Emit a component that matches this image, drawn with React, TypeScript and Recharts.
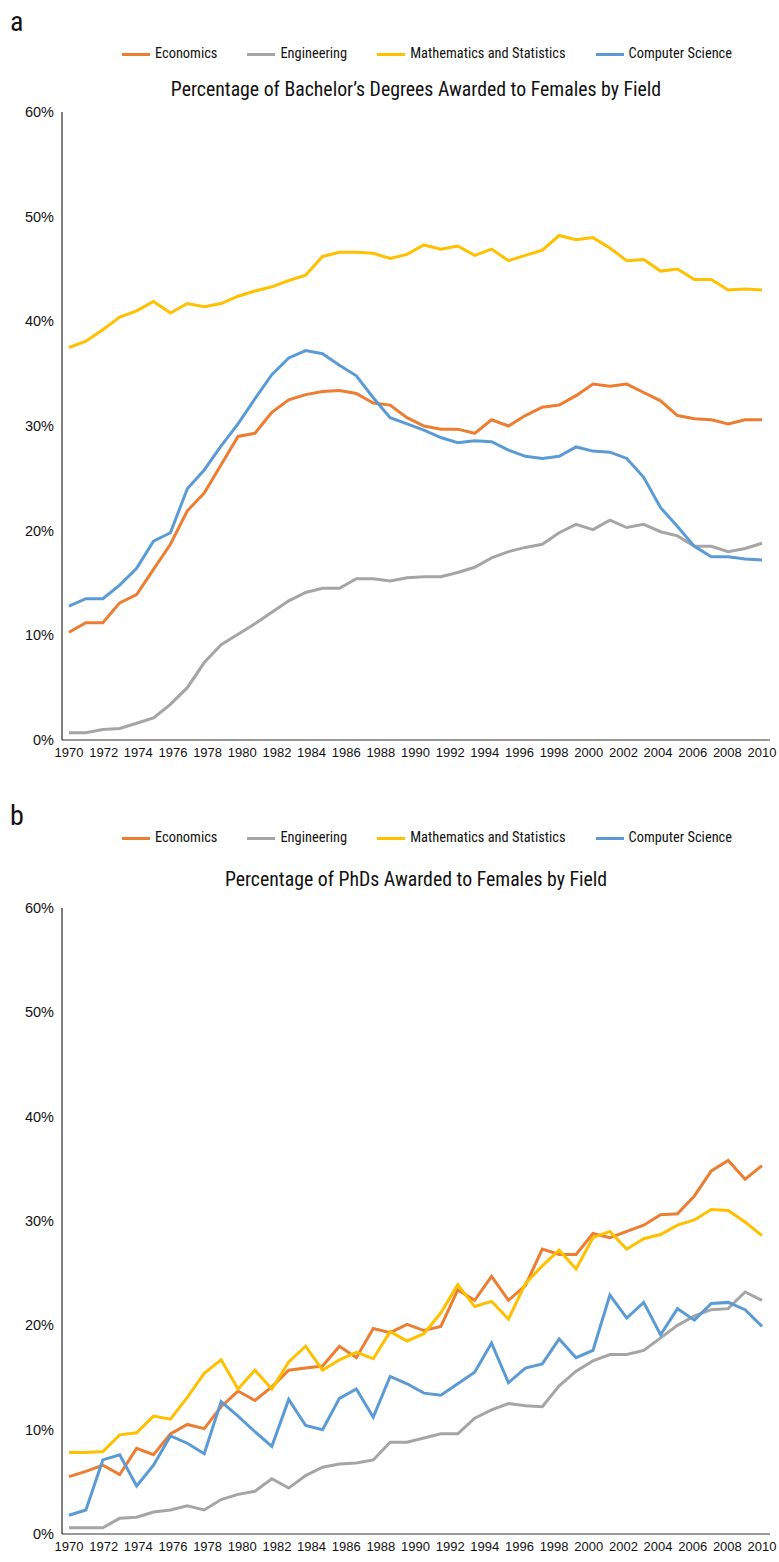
import { LineChart, Line, XAxis, YAxis } from "recharts";

// x-axis labels, spread evenly across the 42 yearly points (as in the source figure)
const YEAR_LABELS = [
  "1970", "1972", "1974", "1976", "1978", "1980", "1982", "1984", "1986", "1988", "1990",
  "1992", "1994", "1996", "1998", "2000", "2002", "2004", "2006", "2008", "2010",
];
const Y_TICKS = [0, 10, 20, 30, 40, 50, 60];

// a: bachelor's degrees (% female)
const econBachelor = [
  10.3, 11.2, 11.2, 13.1, 13.9, 16.3, 18.7, 21.9, 23.6, 26.3, 29.0, 29.3, 31.3, 32.5,
  33.0, 33.3, 33.4, 33.1, 32.2, 32.0, 30.8, 30.0, 29.7, 29.7, 29.3, 30.6, 30.0, 31.0,
  31.8, 32.0, 32.9, 34.0, 33.8, 34.0, 33.2, 32.4, 31.0, 30.7, 30.6, 30.2, 30.6, 30.6,
];
const engBachelor = [
  0.7, 0.7, 1.0, 1.1, 1.6, 2.1, 3.4, 5.0, 7.4, 9.1, 10.1, 11.1, 12.2, 13.3,
  14.1, 14.5, 14.5, 15.4, 15.4, 15.2, 15.5, 15.6, 15.6, 16.0, 16.5, 17.4, 18.0, 18.4,
  18.7, 19.8, 20.6, 20.1, 21.0, 20.3, 20.6, 19.9, 19.5, 18.5, 18.5, 18.0, 18.3, 18.8,
];
const mathBachelor = [
  37.5, 38.1, 39.2, 40.4, 41.0, 41.9, 40.8, 41.7, 41.4, 41.7, 42.4, 42.9, 43.3, 43.9,
  44.4, 46.2, 46.6, 46.6, 46.5, 46.0, 46.4, 47.3, 46.9, 47.2, 46.3, 46.9, 45.8, 46.3,
  46.8, 48.2, 47.8, 48.0, 47.0, 45.8, 45.9, 44.8, 45.0, 44.0, 44.0, 43.0, 43.1, 43.0,
];
const csBachelor = [
  12.8, 13.5, 13.5, 14.8, 16.4, 19.0, 19.8, 24.0, 25.8, 28.1, 30.2, 32.6, 34.9, 36.5,
  37.2, 36.9, 35.8, 34.8, 32.7, 30.8, 30.2, 29.6, 28.9, 28.4, 28.6, 28.5, 27.7, 27.1,
  26.9, 27.1, 28.0, 27.6, 27.5, 26.9, 25.1, 22.2, 20.4, 18.5, 17.5, 17.5, 17.3, 17.2,
];

// b: PhDs (% female)
const econPhd = [
  5.5, 6.0, 6.6, 5.7, 8.2, 7.6, 9.6, 10.5, 10.1, 12.2, 13.7, 12.8, 14.1, 15.7,
  15.9, 16.1, 18.0, 16.9, 19.7, 19.3, 20.1, 19.5, 19.9, 23.4, 22.4, 24.7, 22.4, 23.8,
  27.3, 26.8, 26.8, 28.8, 28.4, 29.0, 29.6, 30.6, 30.7, 32.4, 34.8, 35.8, 34.0, 35.3,
];
const engPhd = [
  0.6, 0.6, 0.6, 1.5, 1.6, 2.1, 2.3, 2.7, 2.3, 3.3, 3.8, 4.1, 5.3, 4.4,
  5.6, 6.4, 6.7, 6.8, 7.1, 8.8, 8.8, 9.2, 9.6, 9.6, 11.1, 11.9, 12.5, 12.3,
  12.2, 14.2, 15.6, 16.6, 17.2, 17.2, 17.6, 18.8, 20.0, 20.9, 21.5, 21.6, 23.2, 22.4,
];
const mathPhd = [
  7.8, 7.8, 7.9, 9.5, 9.7, 11.3, 11.0, 13.1, 15.4, 16.7, 13.9, 15.7, 13.9, 16.5,
  18.0, 15.7, 16.7, 17.4, 16.8, 19.4, 18.5, 19.2, 21.2, 23.9, 21.8, 22.3, 20.6, 24.0,
  25.7, 27.2, 25.4, 28.4, 29.0, 27.3, 28.3, 28.7, 29.6, 30.1, 31.1, 31.0, 29.9, 28.6,
];
const csPhd = [
  1.8, 2.3, 7.1, 7.6, 4.6, 6.6, 9.4, 8.7, 7.7, 12.7, 11.3, 9.8, 8.4, 12.9,
  10.4, 10.0, 13.0, 13.9, 11.2, 15.1, 14.4, 13.5, 13.3, 14.4, 15.5, 18.3, 14.5, 15.9,
  16.3, 18.7, 16.9, 17.6, 22.9, 20.7, 22.2, 19.1, 21.6, 20.5, 22.1, 22.2, 21.5, 19.9,
];

const SERIES = [
  { key: "econ", name: "Economics", color: "#ED7D31" },
  { key: "eng", name: "Engineering", color: "#A5A5A5" },
  { key: "math", name: "Mathematics and Statistics", color: "#FFC000" },
  { key: "cs", name: "Computer Science", color: "#5B9BD5" },
];

const NARROW = "'Liberation Sans Narrow', 'Arial Narrow', 'Roboto Condensed', sans-serif";
const SANS = "'Liberation Sans', Arial, Helvetica, sans-serif";

function buildRows(econ: number[], eng: number[], math: number[], cs: number[]) {
  return econ.map((v, i) => ({ i, econ: v, eng: eng[i], math: math[i], cs: cs[i] }));
}

const lastIndex = econBachelor.length - 1;
const xTicks = YEAR_LABELS.map((_, k) => (k * lastIndex) / (YEAR_LABELS.length - 1));
const yearFor = (v: number) =>
  YEAR_LABELS[Math.round((v * (YEAR_LABELS.length - 1)) / lastIndex)];

interface PanelProps {
  letter: string;
  title: string;
  rows: Array<Record<string, number>>;
  letterTop: number;
  legendTop: number;
  titleTop: number;
  plotTop: number;
  plotBottom: number;
}

function Panel({ letter, title, rows, letterTop, legendTop, titleTop, plotTop, plotBottom }: PanelProps) {
  const chartTop = plotTop - 10;
  const chartHeight = plotBottom - plotTop + 10 + 30 + 5;
  return (
    <>
      <div
        style={{
          position: "absolute",
          left: 10,
          top: letterTop,
          fontFamily: NARROW,
          fontSize: 28,
          lineHeight: "28px",
          color: "#111",
        }}
      >
        {letter}
      </div>
      <div
        style={{
          position: "absolute",
          left: 122,
          top: legendTop,
          display: "flex",
          alignItems: "center",
          gap: 30,
          fontFamily: NARROW,
          fontSize: 14.4,
          lineHeight: "18px",
          color: "#111",
          whiteSpace: "nowrap",
        }}
      >
        {SERIES.map((s) => (
          <div key={s.key} style={{ display: "flex", alignItems: "center", gap: 5 }}>
            <span style={{ display: "inline-block", width: 28, height: 3, background: s.color }} />
            <span>{s.name}</span>
          </div>
        ))}
      </div>
      <div
        style={{
          position: "absolute",
          left: 62,
          width: 708,
          top: titleTop,
          textAlign: "center",
          fontFamily: NARROW,
          fontSize: 19.8,
          lineHeight: "22px",
          color: "#111",
          whiteSpace: "nowrap",
        }}
      >
        {title}
      </div>
      <div style={{ position: "absolute", left: 0, top: chartTop }}>
        <LineChart
          width={779}
          height={chartHeight}
          data={rows}
          margin={{ top: 10, right: 9, bottom: 5, left: 0 }}
        >
          <XAxis
            type="number"
            dataKey="i"
            domain={[0, lastIndex]}
            ticks={xTicks}
            interval={0}
            tickFormatter={yearFor}
            padding={{ left: 7, right: 8 }}
            tickLine={false}
            axisLine={{ stroke: "#333", strokeWidth: 1 }}
            tick={{ fill: "#111", fontSize: 13, fontFamily: SANS }}
            height={30}
          />
          <YAxis
            type="number"
            domain={[0, 60]}
            ticks={Y_TICKS}
            interval={0}
            tickFormatter={(v: number) => `${v}%`}
            tickLine={false}
            axisLine={{ stroke: "#000", strokeWidth: 1 }}
            tick={{ fill: "#111", fontSize: 14.5, fontFamily: SANS }}
            width={62}
          />
          {SERIES.map((s) => (
            <Line
              key={s.key}
              type="linear"
              dataKey={s.key}
              name={s.name}
              stroke={s.color}
              strokeWidth={3}
              dot={false}
              isAnimationActive={false}
            />
          ))}
        </LineChart>
      </div>
    </>
  );
}

export default function App() {
  const bachelorRows = buildRows(econBachelor, engBachelor, mathBachelor, csBachelor);
  const phdRows = buildRows(econPhd, engPhd, mathPhd, csPhd);
  return (
    <div
      style={{
        position: "absolute",
        left: 0,
        top: 0,
        width: 779,
        height: 1562,
        background: "#fff",
      }}
    >
      <Panel
        letter="a"
        title="Percentage of Bachelor’s Degrees Awarded to Females by Field"
        rows={bachelorRows}
        letterTop={8}
        legendTop={45}
        titleTop={79}
        plotTop={112}
        plotBottom={740}
      />
      <Panel
        letter="b"
        title="Percentage of PhDs Awarded to Females by Field"
        rows={phdRows}
        letterTop={802}
        legendTop={829}
        titleTop={869}
        plotTop={908}
        plotBottom={1534}
      />
    </div>
  );
}
